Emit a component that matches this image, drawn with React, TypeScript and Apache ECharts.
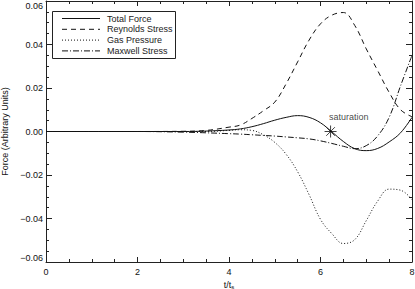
import React, { useEffect, useRef } from "react";
import * as echarts from "echarts";

const T = [0, 1, 2, 3, 3.5, 4, 4.25, 4.5, 4.75, 5, 5.25, 5.5, 5.75, 6, 6.25, 6.5, 6.75, 7, 7.25, 7.5, 7.75, 8];
const TOTAL = [0, 0, 0, 0, 0.0002, 0.0007, 0.0012, 0.0022, 0.0036, 0.0052, 0.0065, 0.0073, 0.0065, 0.004, -0.0002, -0.0046, -0.0079, -0.0088, -0.0078, -0.0048, -0.0006, 0.0065];
const REYNOLDS = [0, 0, 0, 0.0001, 0.0005, 0.002, 0.003, 0.006, 0.0095, 0.0135, 0.022, 0.032, 0.042, 0.0495, 0.0535, 0.0547, 0.0487, 0.038, 0.028, 0.018, 0.0100, 0.0068];
const GAS = [0, 0, 0, 0, 0, 0.0005, 0.0008, 0.0005, -0.0015, -0.005, -0.0105, -0.0185, -0.029, -0.0404, -0.047, -0.0515, -0.0497, -0.041, -0.032, -0.0265, -0.027, -0.0313];
const MAXWELL = [0, 0, 0, -0.0003, -0.0006, -0.001, -0.0012, -0.0015, -0.0018, -0.0021, -0.0025, -0.0029, -0.0034, -0.0043, -0.0055, -0.0068, -0.0079, -0.0065, -0.002, 0.0065, 0.021, 0.035];
const NAMES = ["Total Force", "Reynolds Stress", "Gas Pressure", "Maxwell Stress"];
const DASHES: (number[] | "solid")[] = ["solid", [5, 4], [1, 2], [6, 2, 1, 2]];
const SATURATION = [6.22, 0];
const X_TICKS = [0, 2, 4, 6, 8];
const Y_TICKS = [-0.06, -0.04, -0.02, 0, 0.02, 0.04, 0.06];

const FONT = "Liberation Sans";

export default function App() {
  const ref = useRef<HTMLDivElement>(null);
  useEffect(() => {
    document.body.style.margin = "0";
    const chart = echarts.init(ref.current!, undefined, { renderer: "svg" });
    const seriesData = [TOTAL, REYNOLDS, GAS, MAXWELL];
    const axisCommon = {
      axisLine: { show: true, onZero: false, lineStyle: { color: "#222", width: 1 } },
      axisTick: { show: true, inside: true, lineStyle: { color: "#222" } },
      minorTick: { show: true, splitNumber: 4, length: 3, lineStyle: { color: "#222" } },
      splitLine: { show: false },
    };
    const legendGraphics: any[] = [
      {
        type: "rect",
        shape: { x: 52.5, y: 11.5, width: 123, height: 47 },
        style: { stroke: "#222", fill: "#fff", lineWidth: 1 },
        z: 100,
      },
    ];
    NAMES.forEach((n, i) => {
      const y = 18.5 + i * 10.8;
      const d = DASHES[i];
      legendGraphics.push({
        type: "line",
        shape: { x1: 62, y1: y, x2: 100, y2: y },
        style: { stroke: "#111", lineWidth: 1, lineDash: d === "solid" ? null : d },
        z: 101,
      });
      legendGraphics.push({
        type: "text",
        x: 107,
        y: y,
        style: { text: n, fill: "#222", font: `9px "${FONT}"`, textVerticalAlign: "middle", textAlign: "left" },
        z: 101,
      });
    });
    chart.setOption({
      animation: false,
      backgroundColor: "#fff",
      grid: { left: 46, right: 3, top: 1, bottom: 27, containLabel: false, outerBoundsMode: "none" },
      xAxis: [
        {
          type: "value",
          min: 0,
          max: 8,
          interval: 2,
          position: "bottom",
          name: "t/t{s|s}",
          nameLocation: "middle",
          nameGap: 17,
          nameTextStyle: {
            fontFamily: FONT,
            fontSize: 9,
            color: "#111",
            rich: { s: { fontSize: 6, verticalAlign: "bottom", padding: [4, 0, 0, 0], fontFamily: FONT, color: "#111" } },
          },
          ...axisCommon,
          axisTick: { ...axisCommon.axisTick, length: 5 },
          axisLabel: {
            fontFamily: FONT,
            fontSize: 9,
            color: "#111",
            margin: 5,
            formatter: (v: number) => (X_TICKS.includes(v) ? String(v) : ""),
          },
        },
        {
          type: "value",
          min: 0,
          max: 8,
          interval: 2,
          position: "top",
          ...axisCommon,
          axisTick: { ...axisCommon.axisTick, length: 5 },
          axisLabel: { show: false },
        },
      ],
      yAxis: [
        {
          type: "value",
          min: -0.06,
          max: 0.06,
          interval: 0.02,
          position: "left",
          name: "Force (Arbitrary Units)",
          nameLocation: "middle",
          nameGap: 36,
          nameTextStyle: { fontFamily: FONT, fontSize: 9, color: "#111" },
          ...axisCommon,
          axisTick: { ...axisCommon.axisTick, length: 6 },
          axisLabel: {
            fontFamily: FONT,
            fontSize: 9,
            color: "#111",
            margin: 3,
            verticalAlignMaxLabel: "top",
            verticalAlignMinLabel: "bottom",
            formatter: (v: number) => {
              const r = Y_TICKS.find((t) => Math.abs(t - v) < 1e-9);
              if (r === undefined) return "";
              return r.toFixed(2).replace("-", "\u2212");
            },
          },
        },
        {
          type: "value",
          min: -0.06,
          max: 0.06,
          interval: 0.02,
          position: "right",
          ...axisCommon,
          axisTick: { ...axisCommon.axisTick, length: 6 },
          axisLabel: { show: false },
        },
      ],
      graphic: legendGraphics,
      series: [
        ...NAMES.map((n, i) => ({
          name: n,
          type: "line",
          smooth: 0.4,
          showSymbol: false,
          symbol: "none",
          clip: true,
          data: T.map((t, k) => [t, seriesData[i][k]]),
          lineStyle: { color: "#111", width: 1, type: DASHES[i] },
          z: 2,
        })),
        {
          name: "saturation",
          type: "scatter",
          data: [SATURATION],
          symbol: "path://M0,-6L0,6M-6,0L6,0M-4.3,-4.3L4.3,4.3M-4.3,4.3L4.3,-4.3",
          symbolSize: 12,
          itemStyle: { color: "none", borderColor: "#111", borderWidth: 1 },
          label: {
            show: true,
            formatter: "saturation",
            position: [7, -6],
            align: "left",
            verticalAlign: "middle",
            fontFamily: FONT,
            fontSize: 9,
            color: "#111",
          },
          z: 5,
        },
      ],
    });
    return () => chart.dispose();
  }, []);
  return <div ref={ref} style={{ width: 415, height: 289 }} />;
}
